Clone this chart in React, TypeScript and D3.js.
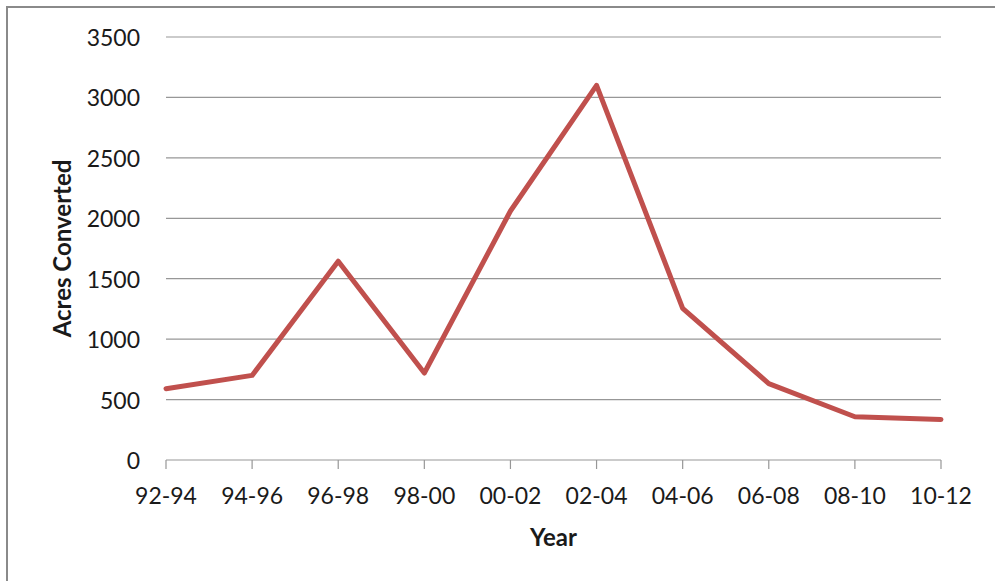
import React from "react";
import * as d3 from "d3";

const categories = ["92-94", "94-96", "96-98", "98-00", "00-02", "02-04", "04-06", "06-08", "08-10", "10-12"];
const acresConverted = [590, 700, 1645, 720, 2060, 3100, 1255, 632, 358, 335];
const yTicks = [0, 500, 1000, 1500, 2000, 2500, 3000, 3500];

const W = 995;
const H = 581;
const FONT = "Lato, 'Open Sans', sans-serif";

export default function App() {
  const left = 166;
  const right = 941;
  const top = 37;
  const bottom = 460;

  const x = d3.scalePoint<string>().domain(categories).range([left, right]);
  const y = d3.scaleLinear().domain([0, 3500]).range([bottom, top]);

  const line = d3
    .line<number>()
    .x((_, i) => x(categories[i]) as number)
    .y((d) => y(d));

  return (
    <svg
      width={W}
      height={H}
      style={{ position: "absolute", left: 0, top: 0, display: "block", background: "#fff" }}
    >
      <rect x={0} y={0} width={W} height={H} fill="#fff" />
      <rect x={7} y={7} width={W + 20} height={H + 20} fill="none" stroke="#8a8a8a" strokeWidth={2} />

      {yTicks.map((t) => (
        <g key={t}>
          {t > 0 && (
            <line x1={left} x2={right} y1={y(t)} y2={y(t)} stroke="#979797" strokeWidth={1.2} />
          )}
          <text
            x={140}
            y={y(t)}
            textAnchor="end"
            dominantBaseline="central"
            fontFamily={FONT}
            fontSize={23}
            fill="#1a1a1a"
          >
            {t}
          </text>
        </g>
      ))}

      <line x1={left} x2={right} y1={bottom} y2={bottom} stroke="#979797" strokeWidth={1.2} />
      {categories.map((c) => (
        <g key={c}>
          <line x1={x(c)} x2={x(c)} y1={bottom} y2={bottom + 9} stroke="#979797" strokeWidth={1.2} />
          <text
            x={x(c)}
            y={495}
            textAnchor="middle"
            dominantBaseline="central"
            fontFamily={FONT}
            fontSize={23}
            fill="#1a1a1a"
          >
            {c}
          </text>
        </g>
      ))}

      <path
        d={line(acresConverted) || ""}
        fill="none"
        stroke="#C0504D"
        strokeWidth={5}
        strokeLinejoin="round"
        strokeLinecap="round"
      />

      <text
        x={(left + right) / 2}
        y={536}
        textAnchor="middle"
        dominantBaseline="central"
        fontFamily={FONT}
        fontWeight="bold"
        fontSize={24}
        fill="#1a1a1a"
      >
        Year
      </text>
      <text
        transform={`translate(61, ${(top + bottom) / 2}) rotate(-90)`}
        textAnchor="middle"
        dominantBaseline="central"
        fontFamily={FONT}
        fontWeight="bold"
        fontSize={24}
        fill="#1a1a1a"
      >
        Acres Converted
      </text>
    </svg>
  );
}
